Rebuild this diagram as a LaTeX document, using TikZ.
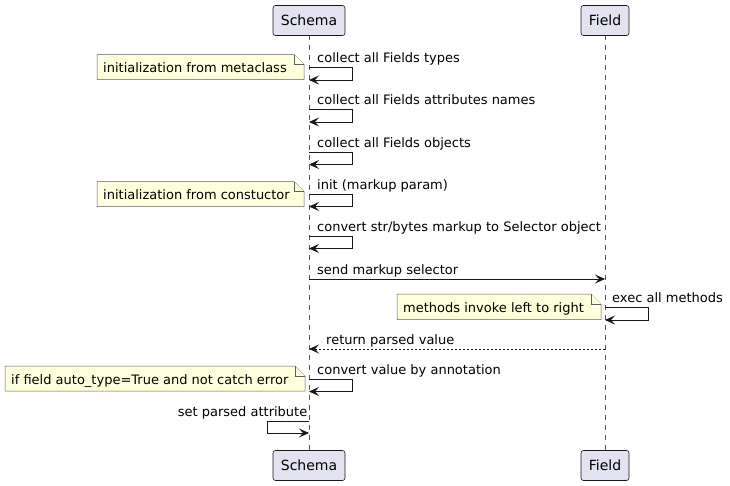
\documentclass[tikz,border=0pt]{standalone}
\usepackage{fontspec}
\setmainfont{DejaVu Sans}
\usetikzlibrary{arrows.meta}
\definecolor{partfill}{HTML}{E2E2F0}
\definecolor{ink}{HTML}{181818}
\definecolor{notefill}{HTML}{FEFFDD}
\definecolor{lifegray}{HTML}{555555}
\newcommand\mynote[5]{%
  \filldraw[notebox] (#1,#2) -- (#3-10,#2) -- (#3,#2+10) -- (#3,#4) -- (#1,#4) -- cycle;
  \draw[notebox] (#3-10,#2) -- (#3-10,#2+10) -- (#3,#2+10);
  \node[notetext] at (#1+6,#2+18) {#5};}
\begin{document}
\begin{tikzpicture}[x=1pt,y=-1pt,
  part/.style={draw=ink, fill=partfill, rounded corners=2.5pt, line width=0.6pt,
    minimum height=30pt, inner sep=0pt, font=\fontsize{14}{16}\selectfont},
  life/.style={draw=lifegray, line width=0.6pt, dash pattern=on 5pt off 5pt},
  msg/.style={draw=ink, line width=1pt, -{Stealth[length=10pt,width=9pt,inset=4pt]}},
  ret/.style={msg, dash pattern=on 2pt off 2pt},
  lbl/.style={inner sep=0pt, font=\fontsize{13}{15}\selectfont, anchor=base west, text=black},
  lblr/.style={lbl, anchor=base east},
  notebox/.style={draw=ink!70, fill=notefill, line width=0.5pt},
  notetext/.style={lbl}]
\useasboundingbox (0,0) rectangle (730,485);
% lifelines
\draw[life] (309,35) -- (309,451);
\draw[life] (605,35) -- (605,451);
% participants
\node[part, minimum width=72pt] (sTop) at (309,20.5) {Schema};
\node[part, minimum width=48pt] (fTop) at (605,20.5) {Field};
\node[part, minimum width=72pt] (sBot) at (309,465.5) {Schema};
\node[part, minimum width=48pt] (fBot) at (605,465.5) {Field};
% notes
\mynote{97}{54.5}{304}{79.5}{initialization from metaclass}
\mynote{97}{181.5}{304}{206.5}{initialization from constuctor}
\mynote{397}{294}{601}{319.5}{methods invoke left to right}
\mynote{5}{366}{305}{391}{if field auto\_type=True and not catch error}
% message coordinates
\coordinate (a1) at (309,67.5);   \coordinate (b1) at (309,80);
\coordinate (a2) at (309,109.5);  \coordinate (b2) at (309,122);
\coordinate (a3) at (309,152);  \coordinate (b3) at (309,164.5);
\coordinate (a4) at (309,194);  \coordinate (b4) at (309,206.5);
\coordinate (a5) at (309,236);  \coordinate (b5) at (309,248.5);
\coordinate (s6) at (309,279);  \coordinate (f6) at (605,279);
\coordinate (a7) at (605,307);  \coordinate (b7) at (605,320);
\coordinate (f8) at (605,349);  \coordinate (s8) at (309,349);
\coordinate (a9) at (309,379);  \coordinate (b9) at (309,391.5);
\coordinate (a10) at (309,421); \coordinate (b10) at (309,433);
% self messages on Schema
\foreach \i in {1,2,3,4,5,9} {
  \draw[msg] (a\i) -- ++(43,0) -- ++(0,12.5) -- (b\i);
}
\draw[msg] (s6) -- (f6);
\draw[msg] (a7) -- ++(43,0) -- ++(0,13) -- (b7);
\draw[ret] (f8) -- (s8);
\draw[msg] (a10) -- ++(-42,0) -- ++(0,12) -- (b10);
% labels
\node[lbl] (t1) at (317,62) {collect all Fields types};
\node[lbl] (t2) at (317,104) {collect all Fields attributes names};
\node[lbl] (t3) at (317,147) {collect all Fields objects};
\node[lbl] (t4) at (317,189) {init (markup param)};
\node[lbl] (t5) at (317,231) {convert str/bytes markup to Selector object};
\node[lbl] (t6) at (317,274) {send markup selector};
\node[lbl] (t7) at (612,302) {exec all methods};
\node[lbl] (t8) at (326,344) {return parsed value};
\node[lbl] (t9) at (317,374) {convert value by annotation};
\node[lblr] (t10) at (307.5,416) {set parsed attribute};
\end{tikzpicture}
\end{document}
